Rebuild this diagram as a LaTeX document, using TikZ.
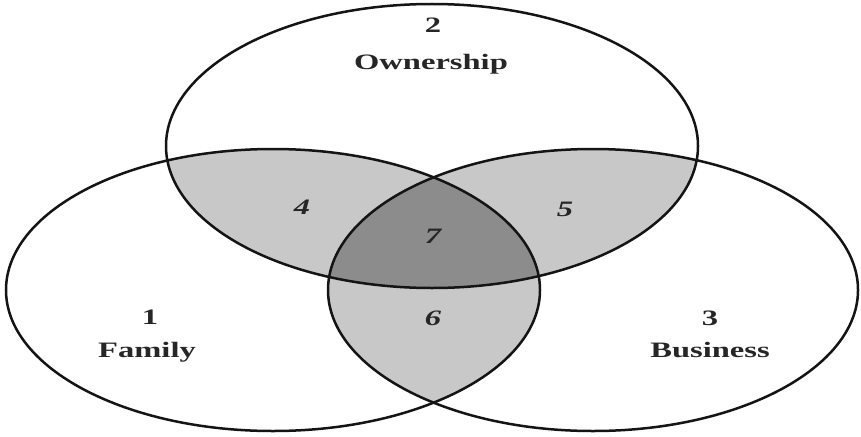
\documentclass[tikz,border=0pt]{standalone}
\usepackage{fontspec}
\newfontfamily\lblfont[FakeStretch=1.48]{Liberation Serif}
\definecolor{pairgray}{RGB}{200,200,200}
\definecolor{coregray}{RGB}{140,140,140}
\definecolor{ringcol}{RGB}{20,20,20}
\begin{document}
\begin{tikzpicture}[x=1pt,y=-1pt,
  ring/.style={draw=ringcol,line width=2.5pt},
  lbl/.style={font=\lblfont\bfseries\fontsize{22}{25}\selectfont,text=black!85,anchor=base,inner sep=0pt},
  num/.style={font=\lblfont\bfseries\itshape\fontsize{22}{25}\selectfont,text=black!85,anchor=base,inner sep=0pt}]
\useasboundingbox (0,0) rectangle (861,436);
\def\topE{(432,146) ellipse [x radius=266pt, y radius=142pt]}
\def\leftE{(273,290) ellipse [x radius=267pt, y radius=141pt]}
\def\rightE{(593,290) ellipse [x radius=265pt, y radius=141pt]}
% pairwise overlaps
\begin{scope}\clip \topE; \fill[pairgray] \leftE; \end{scope}
\begin{scope}\clip \topE; \fill[pairgray] \rightE; \end{scope}
\begin{scope}\clip \leftE; \fill[pairgray] \rightE; \end{scope}
% triple overlap
\begin{scope}\clip \topE; \clip \leftE; \fill[coregray] \rightE; \end{scope}
% outlines
\draw[ring] \topE;
\draw[ring] \leftE;
\draw[ring] \rightE;
% labels
\node[lbl] (n2) at (433,33) {2};
\node[lbl] (own) at (431,69) {Ownership};
\node[lbl] (n1) at (150,324) {1};
\node[lbl] (fam) at (147,357) {Family};
\node[lbl] (n3) at (710,325) {3};
\node[lbl] (bus) at (710,357) {Business};
\node[num] (n4) at (302,214) {4};
\node[num] (n5) at (565,216) {5};
\node[num] (n7) at (433,243) {7};
\node[num] (n6) at (433,325) {6};
\end{tikzpicture}
\end{document}
